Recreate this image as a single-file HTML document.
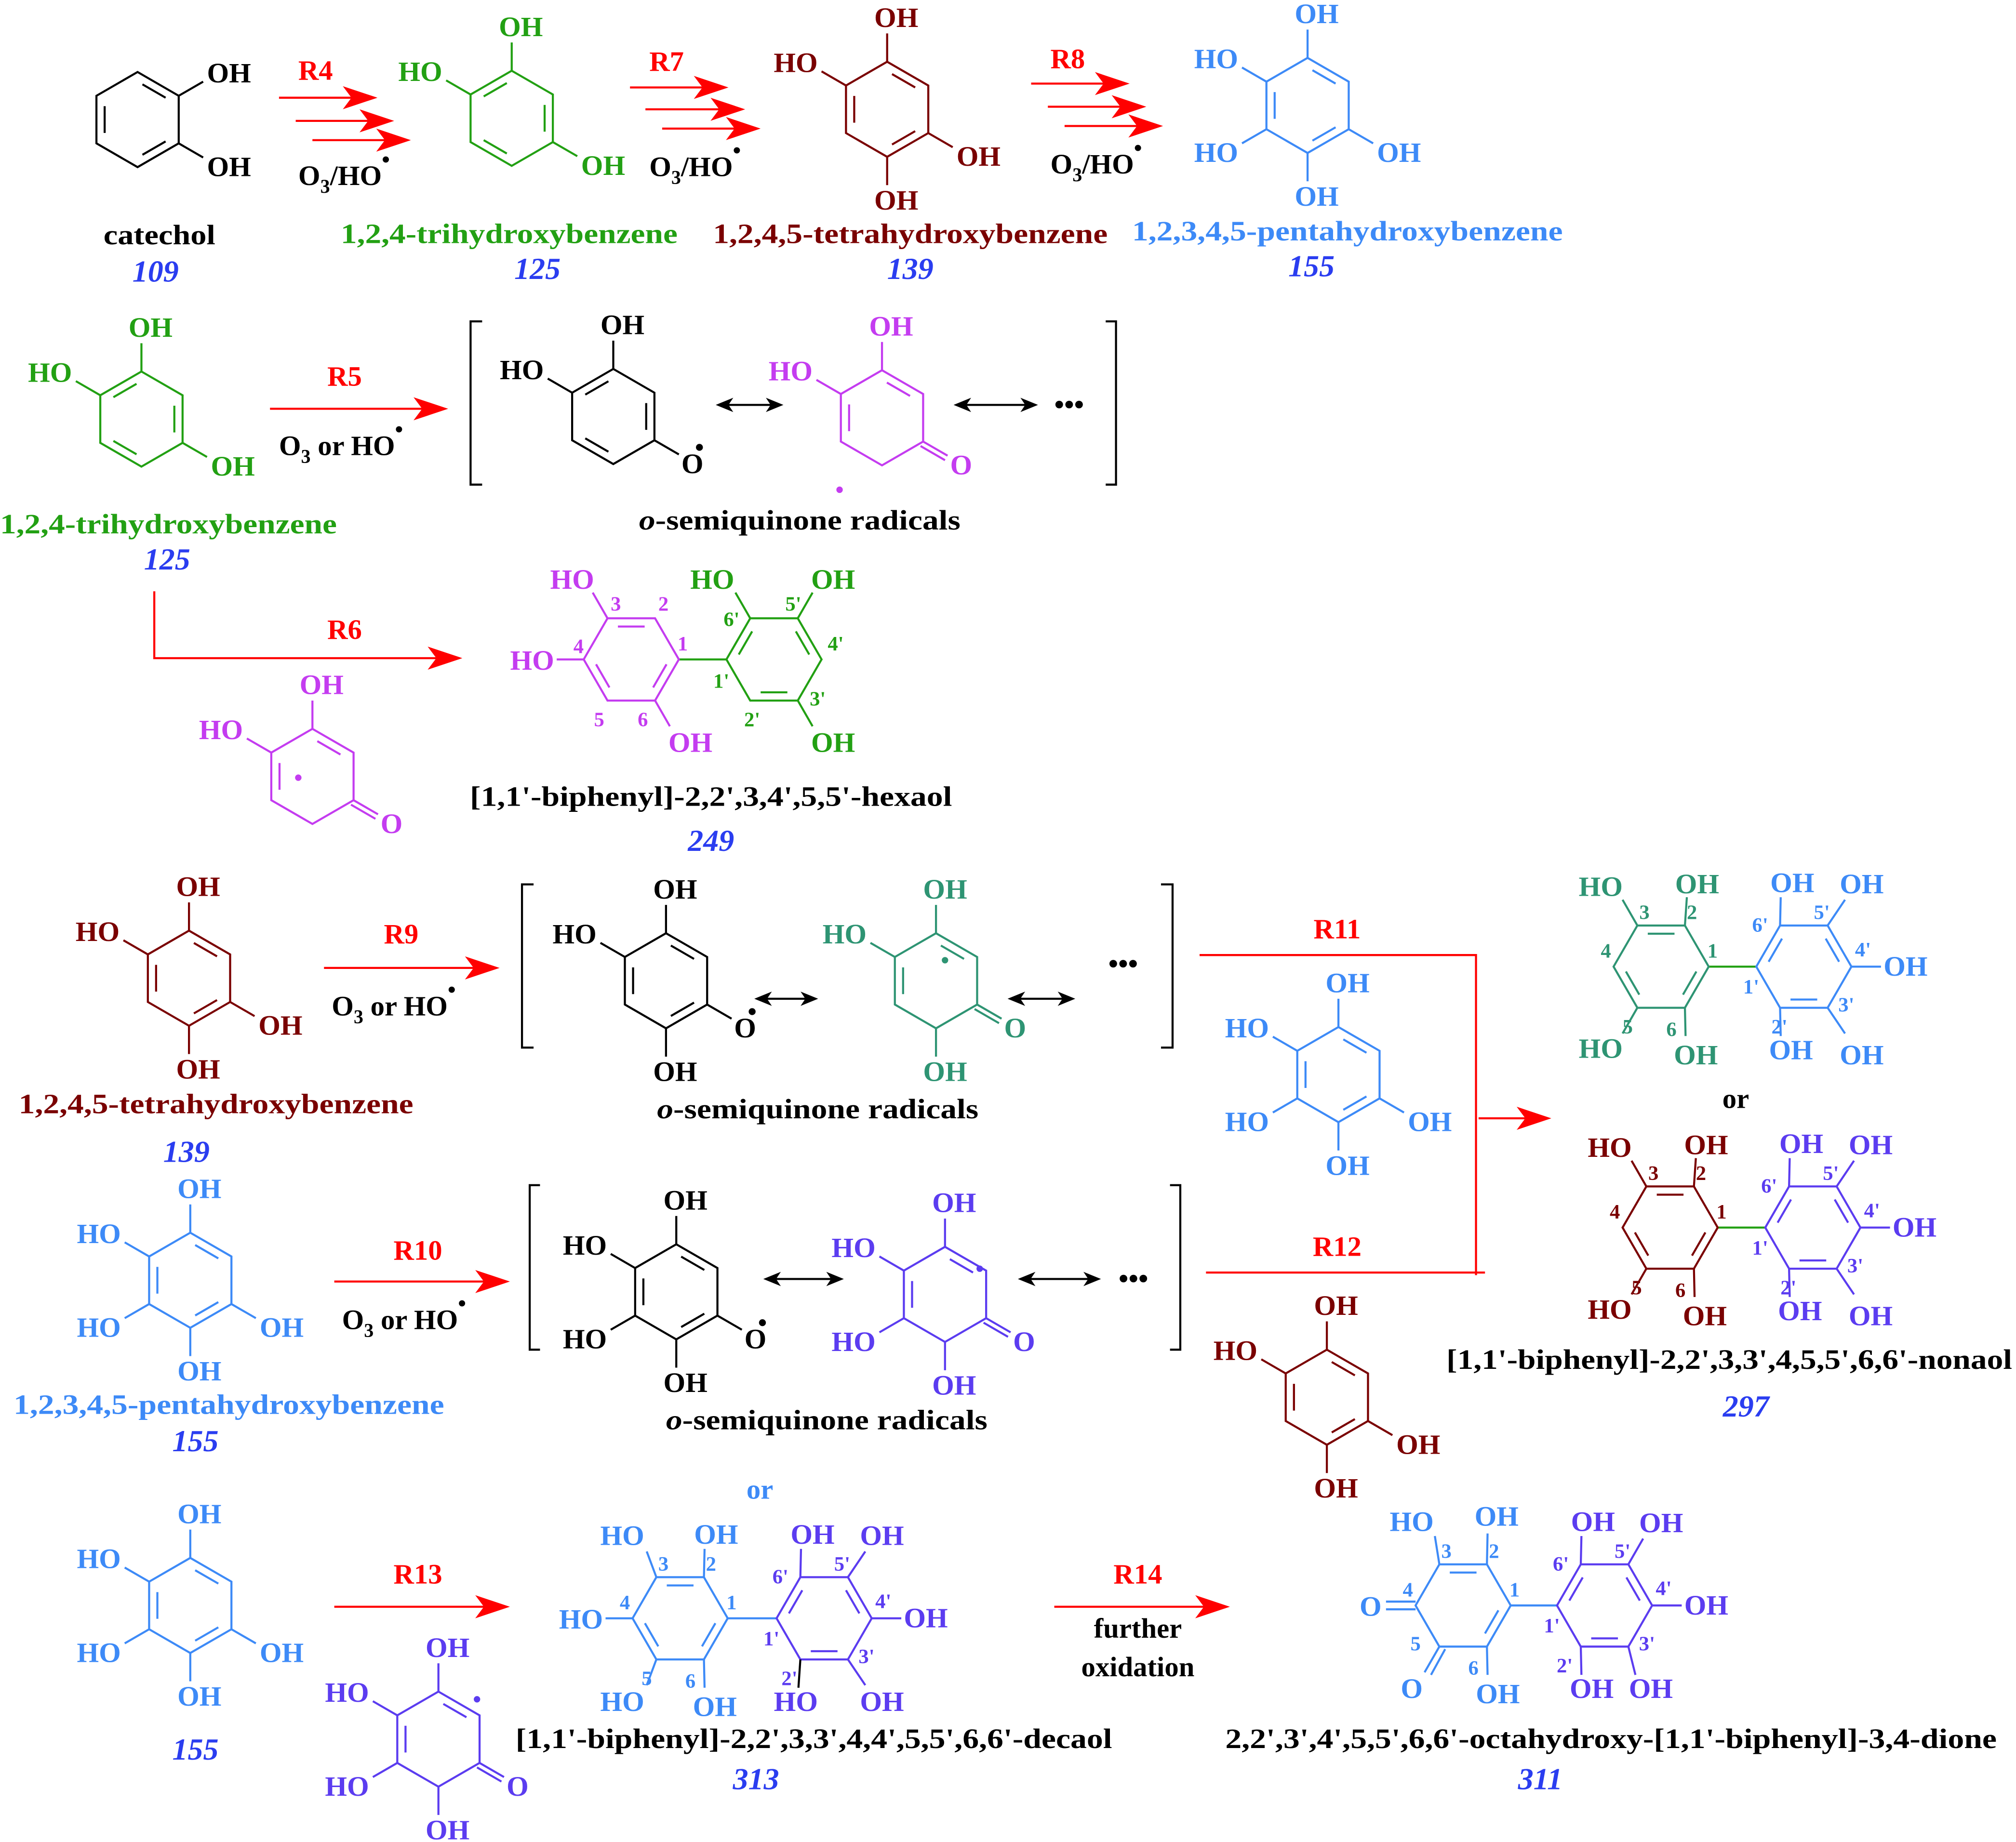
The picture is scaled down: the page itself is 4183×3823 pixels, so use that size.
<!DOCTYPE html>
<html><head><meta charset="utf-8"><style>
html,body{margin:0;padding:0;background:#fff;}
svg{display:block;}
text{font-family:"Liberation Serif","Times New Roman",serif;font-weight:bold;font-size:22px;stroke:none;}
.n{font-size:16px;}
.i{font-style:italic;fill:#2a3df0;font-size:24px;}
.red{fill:#ff0000;}
line,path,polyline{stroke-width:1.6;}
</style></head><body>
<svg xmlns="http://www.w3.org/2000/svg" width="4183" height="3823" viewBox="0 0 1568 1433">
<defs>
<path id="hp" d="M0,-37L32,-18.5L32,18.5L0,37L-32,18.5L-32,-18.5Z" fill="none"/>
<path id="hf" d="M37,0L18.5,32L-18.5,32L-37,0L-18.5,-32L18.5,-32Z" fill="none"/>
<g id="pA"><line x1="-25.6" y1="-10.4" x2="-25.6" y2="10.4"/><line x1="21.8" y1="-17" x2="3.8" y2="-27.4"/><line x1="3.8" y1="27.4" x2="21.8" y2="17"/></g>
<g id="pB"><line x1="-3.8" y1="-27.4" x2="-21.8" y2="-17"/><line x1="-21.8" y1="17" x2="-3.8" y2="27.4"/><line x1="25.6" y1="10.4" x2="25.6" y2="-10.4"/></g>
<g id="pQ"><line x1="-25.6" y1="-10.4" x2="-25.6" y2="10.4"/><line x1="21.8" y1="-17" x2="3.8" y2="-27.4"/></g>
<g id="fA"><line x1="-10.4" y1="-25.6" x2="10.4" y2="-25.6"/><line x1="-17" y1="21.8" x2="-27.4" y2="3.8"/><line x1="27.4" y1="3.8" x2="17" y2="21.8"/></g>
<g id="fB"><line x1="-27.4" y1="-3.8" x2="-17" y2="-21.8"/><line x1="17" y1="-21.8" x2="27.4" y2="-3.8"/><line x1="10.4" y1="25.6" x2="-10.4" y2="25.6"/></g>
<g id="fD"><line x1="-10.4" y1="-25.6" x2="10.4" y2="-25.6"/><line x1="27.4" y1="3.8" x2="17" y2="21.8"/></g>
</defs>

<!-- ============ ROW 1 ============ -->
<g transform="translate(107,93)" color="#000" stroke="currentColor" fill="currentColor">
<use href="#hp"/><use href="#pA"/>
<line x1="32" y1="-18.5" x2="51" y2="-29.5"/><text x="54" y="-29">OH</text>
<line x1="32" y1="18.5" x2="51" y2="29.5"/><text x="54" y="44">OH</text>
</g>
<text x="124" y="190" text-anchor="middle" textLength="87" lengthAdjust="spacingAndGlyphs">catechol</text>
<text x="121" y="219" text-anchor="middle" class="i">109</text>

<text x="232" y="62" class="red">R4</text>
<g stroke="#f00" fill="#f00">
<line x1="217" y1="76" x2="275" y2="76"/><polygon points="292,76 268,68 274,76 268,84"/>
<line x1="230" y1="94" x2="288" y2="94"/><polygon points="305,94 281,86 287,94 281,102"/>
<line x1="243" y1="109" x2="301" y2="109"/><polygon points="318,109 294,101 300,109 294,117"/>
</g>
<text x="232" y="144">O<tspan font-size="15" dy="6">3</tspan><tspan dy="-6">/HO</tspan><tspan dy="-14" font-size="18">•</tspan></text>

<g transform="translate(398,92)" color="#22a013" stroke="currentColor" fill="currentColor">
<use href="#hp"/><use href="#pB"/>
<line x1="0" y1="-37" x2="0" y2="-59"/><text x="-10" y="-64">OH</text>
<line x1="-32" y1="-18.5" x2="-51" y2="-29.5"/><text x="-54" y="-29" text-anchor="end">HO</text>
<line x1="32" y1="18.5" x2="51" y2="29.5"/><text x="54" y="44">OH</text>
</g>
<text x="396" y="189" text-anchor="middle" fill="#22a013" textLength="262" lengthAdjust="spacingAndGlyphs">1,2,4-trihydroxybenzene</text>
<text x="418" y="217" text-anchor="middle" class="i">125</text>

<text x="505" y="55" class="red">R7</text>
<g stroke="#f00" fill="#f00">
<line x1="490" y1="68" x2="548" y2="68"/><polygon points="565,68 541,60 547,68 541,76"/>
<line x1="502" y1="85" x2="561" y2="85"/><polygon points="578,85 554,77 560,85 554,93"/>
<line x1="515" y1="100" x2="573" y2="100"/><polygon points="590,100 566,92 572,100 566,108"/>
</g>
<text x="505" y="137">O<tspan font-size="15" dy="6">3</tspan><tspan dy="-6">/HO</tspan><tspan dy="-14" font-size="18">•</tspan></text>

<g transform="translate(690,85)" color="#7a0000" stroke="currentColor" fill="currentColor">
<use href="#hp"/><use href="#pA"/>
<line x1="0" y1="-37" x2="0" y2="-59"/><text x="-10" y="-64">OH</text>
<line x1="-32" y1="-18.5" x2="-51" y2="-29.5"/><text x="-54" y="-29" text-anchor="end">HO</text>
<line x1="32" y1="18.5" x2="51" y2="29.5"/><text x="54" y="44">OH</text>
<line x1="0" y1="37" x2="0" y2="59"/><text x="-10" y="78">OH</text>
</g>
<text x="708" y="189" text-anchor="middle" fill="#7a0000" textLength="307" lengthAdjust="spacingAndGlyphs">1,2,4,5-tetrahydroxybenzene</text>
<text x="708" y="217" text-anchor="middle" class="i">139</text>

<text x="817" y="53" class="red">R8</text>
<g stroke="#f00" fill="#f00">
<line x1="802" y1="65" x2="860" y2="65"/><polygon points="877,65 853,57 859,65 853,73"/>
<line x1="815" y1="83" x2="873" y2="83"/><polygon points="890,83 866,75 872,83 866,91"/>
<line x1="828" y1="98" x2="886" y2="98"/><polygon points="903,98 879,90 885,98 879,106"/>
</g>
<text x="817" y="135">O<tspan font-size="15" dy="6">3</tspan><tspan dy="-6">/HO</tspan><tspan dy="-14" font-size="18">•</tspan></text>

<g transform="translate(1017,82)" color="#3d8af7" stroke="currentColor" fill="currentColor">
<use href="#hp"/><use href="#pA"/>
<line x1="0" y1="-37" x2="0" y2="-59"/><text x="-10" y="-64">OH</text>
<line x1="-32" y1="-18.5" x2="-51" y2="-29.5"/><text x="-54" y="-29" text-anchor="end">HO</text>
<line x1="-32" y1="18.5" x2="-51" y2="29.5"/><text x="-54" y="44" text-anchor="end">HO</text>
<line x1="32" y1="18.5" x2="51" y2="29.5"/><text x="54" y="44">OH</text>
<line x1="0" y1="37" x2="0" y2="59"/><text x="-10" y="78">OH</text>
</g>
<text x="1048" y="187" text-anchor="middle" fill="#3d8af7" textLength="335" lengthAdjust="spacingAndGlyphs">1,2,3,4,5-pentahydroxybenzene</text>
<text x="1020" y="215" text-anchor="middle" class="i">155</text>

<!-- ============ ROW 2 ============ -->
<g transform="translate(110,326)" color="#22a013" stroke="currentColor" fill="currentColor">
<use href="#hp"/><use href="#pB"/>
<line x1="0" y1="-37" x2="0" y2="-59"/><text x="-10" y="-64">OH</text>
<line x1="-32" y1="-18.5" x2="-51" y2="-29.5"/><text x="-54" y="-29" text-anchor="end">HO</text>
<line x1="32" y1="18.5" x2="51" y2="29.5"/><text x="54" y="44">OH</text>
</g>
<text x="131" y="415" text-anchor="middle" fill="#22a013" textLength="262" lengthAdjust="spacingAndGlyphs">1,2,4-trihydroxybenzene</text>
<text x="130" y="443" text-anchor="middle" class="i">125</text>

<text x="268" y="300" text-anchor="middle" class="red">R5</text>
<g stroke="#f00" fill="#f00"><line x1="210" y1="318" x2="330" y2="318"/><polygon points="347,318 323,310 329,318 323,326"/></g>
<text x="217" y="354">O<tspan font-size="15" dy="6">3</tspan><tspan dy="-6"> or HO</tspan><tspan dy="-14" font-size="18">•</tspan></text>

<g stroke="#000" fill="none"><path d="M375,250H366V377H375"/><path d="M860,250H868V377H860"/></g>

<g transform="translate(477,324)" color="#000" stroke="currentColor" fill="currentColor">
<use href="#hp"/><use href="#pB"/>
<line x1="0" y1="-37" x2="0" y2="-59"/><text x="-10" y="-64">OH</text>
<line x1="-32" y1="-18.5" x2="-51" y2="-29.5"/><text x="-54" y="-29" text-anchor="end">HO</text>
<line x1="32" y1="18.5" x2="51" y2="29.5"/><text x="53" y="44">O</text><circle cx="67" cy="24" r="2.2"/>
</g>
<g stroke="#000" fill="#000"><line x1="566" y1="315" x2="600" y2="315"/><polygon points="558,315 569,310.5 566,315 569,319.5"/><polygon points="608,315 597,310.5 600,315 597,319.5"/></g>

<g transform="translate(686,325)" color="#c43cf0" stroke="currentColor" fill="currentColor">
<use href="#hp"/><use href="#pQ"/>
<line x1="0" y1="-37" x2="0" y2="-59"/><text x="-10" y="-64">OH</text>
<line x1="-32" y1="-18.5" x2="-51" y2="-29.5"/><text x="-54" y="-29" text-anchor="end">HO</text>
<line x1="32" y1="18.5" x2="51" y2="29.5"/><line x1="30" y1="22" x2="49" y2="33"/><text x="53" y="44">O</text>
<circle cx="-33" cy="56" r="2"/>
</g>
<g stroke="#000" fill="#000"><line x1="751" y1="315" x2="798" y2="315"/><polygon points="743,315 754,310.5 751,315 754,319.5"/><polygon points="806,315 795,310.5 798,315 795,319.5"/></g>
<text x="820" y="322">•••</text>
<text x="622" y="412" text-anchor="middle" textLength="250" lengthAdjust="spacingAndGlyphs"><tspan font-style="italic">o</tspan>-semiquinone radicals</text>

<!-- ============ ROW 3 ============ -->
<g stroke="#f00" fill="#f00"><path d="M120,460V512H341" fill="none"/><polygon points="358,512 334,504 340,512 334,520"/></g>
<text x="268" y="497" text-anchor="middle" class="red">R6</text>

<g transform="translate(243,604)" color="#c43cf0" stroke="currentColor" fill="currentColor">
<use href="#hp"/><use href="#pQ"/>
<line x1="0" y1="-37" x2="0" y2="-59"/><text x="-10" y="-64">OH</text>
<line x1="-32" y1="-18.5" x2="-51" y2="-29.5"/><text x="-54" y="-29" text-anchor="end">HO</text>
<line x1="32" y1="18.5" x2="51" y2="29.5"/><line x1="30" y1="22" x2="49" y2="33"/><text x="53" y="44">O</text>
<circle cx="-11" cy="1" r="2"/>
</g>

<line x1="528" y1="513" x2="565" y2="513" stroke="#22a013"/>
<g transform="translate(491,513)" color="#c43cf0" stroke="currentColor" fill="currentColor">
<use href="#hf"/><use href="#fA"/>
<line x1="-18.5" y1="-32" x2="-30" y2="-52"/><text x="-46" y="-55" text-anchor="middle">HO</text>
<line x1="-37" y1="0" x2="-58" y2="0"/><text x="-60" y="8" text-anchor="end">HO</text>
<line x1="18.5" y1="32" x2="30" y2="52"/><text x="46" y="72" text-anchor="middle">OH</text>
<text class="n" x="-12" y="-38" text-anchor="middle">3</text><text class="n" x="25" y="-38" text-anchor="middle">2</text>
<text class="n" x="40" y="-7" text-anchor="middle">1</text><text class="n" x="-41" y="-5" text-anchor="middle">4</text>
<text class="n" x="-25" y="52" text-anchor="middle">5</text><text class="n" x="9" y="52" text-anchor="middle">6</text>
</g>
<g transform="translate(602,513)" color="#22a013" stroke="currentColor" fill="currentColor">
<use href="#hf"/><use href="#fB"/>
<line x1="-18.5" y1="-32" x2="-30" y2="-52"/><text x="-48" y="-55" text-anchor="middle">HO</text>
<line x1="18.5" y1="-32" x2="30" y2="-52"/><text x="46" y="-55" text-anchor="middle">OH</text>
<line x1="18.5" y1="32" x2="30" y2="52"/><text x="46" y="72" text-anchor="middle">OH</text>
<text class="n" x="-33" y="-26" text-anchor="middle">6'</text><text class="n" x="15" y="-38" text-anchor="middle">5'</text>
<text class="n" x="48" y="-7" text-anchor="middle">4'</text><text class="n" x="-41" y="22" text-anchor="middle">1'</text>
<text class="n" x="34" y="36" text-anchor="middle">3'</text><text class="n" x="-17" y="52" text-anchor="middle">2'</text>
</g>
<text x="553" y="627" text-anchor="middle" textLength="375" lengthAdjust="spacingAndGlyphs">[1,1'-biphenyl]-2,2',3,4',5,5'-hexaol</text>
<text x="553" y="662" text-anchor="middle" class="i">249</text>

<!-- ============ ROW 4 ============ -->
<g transform="translate(147,761)" color="#7a0000" stroke="currentColor" fill="currentColor">
<use href="#hp"/><use href="#pA"/>
<line x1="0" y1="-37" x2="0" y2="-59"/><text x="-10" y="-64">OH</text>
<line x1="-32" y1="-18.5" x2="-51" y2="-29.5"/><text x="-54" y="-29" text-anchor="end">HO</text>
<line x1="32" y1="18.5" x2="51" y2="29.5"/><text x="54" y="44">OH</text>
<line x1="0" y1="37" x2="0" y2="59"/><text x="-10" y="78">OH</text>
</g>
<text x="168" y="866" text-anchor="middle" fill="#7a0000" textLength="307" lengthAdjust="spacingAndGlyphs">1,2,4,5-tetrahydroxybenzene</text>
<text x="145" y="904" text-anchor="middle" class="i">139</text>

<text x="312" y="734" text-anchor="middle" class="red">R9</text>
<g stroke="#f00" fill="#f00"><line x1="252" y1="753" x2="370" y2="753"/><polygon points="387,753 363,745 369,753 363,761"/></g>
<text x="258" y="790">O<tspan font-size="15" dy="6">3</tspan><tspan dy="-6"> or HO</tspan><tspan dy="-14" font-size="18">•</tspan></text>

<g stroke="#000" fill="none"><path d="M415,688H406V815H415"/><path d="M903,688H912V815H903"/></g>

<g transform="translate(518,763)" color="#000" stroke="currentColor" fill="currentColor">
<use href="#hp"/><use href="#pA"/>
<line x1="0" y1="-37" x2="0" y2="-59"/><text x="-10" y="-64">OH</text>
<line x1="-32" y1="-18.5" x2="-51" y2="-29.5"/><text x="-54" y="-29" text-anchor="end">HO</text>
<line x1="32" y1="18.5" x2="51" y2="29.5"/><text x="53" y="44">O</text><circle cx="67" cy="24" r="2.2"/>
<line x1="0" y1="37" x2="0" y2="59"/><text x="-10" y="78">OH</text>
</g>
<g stroke="#000" fill="#000"><line x1="596" y1="777" x2="627" y2="777"/><polygon points="588,777 599,772.5 596,777 599,781.5"/><polygon points="635,777 624,772.5 627,777 624,781.5"/></g>

<g transform="translate(728,763)" color="#2e9473" stroke="currentColor" fill="currentColor">
<use href="#hp"/><use href="#pQ"/>
<line x1="0" y1="-37" x2="0" y2="-59"/><text x="-10" y="-64">OH</text>
<line x1="-32" y1="-18.5" x2="-51" y2="-29.5"/><text x="-54" y="-29" text-anchor="end">HO</text>
<line x1="32" y1="18.5" x2="51" y2="29.5"/><line x1="30" y1="22" x2="49" y2="33"/><text x="53" y="44">O</text>
<line x1="0" y1="37" x2="0" y2="59"/><text x="-10" y="78">OH</text>
<circle cx="7" cy="-16" r="2"/>
</g>
<g stroke="#000" fill="#000"><line x1="793" y1="777" x2="827" y2="777"/><polygon points="785,777 796,772.5 793,777 796,781.5"/><polygon points="835,777 824,772.5 827,777 824,781.5"/></g>
<text x="862" y="757">•••</text>
<text x="636" y="870" text-anchor="middle" textLength="250" lengthAdjust="spacingAndGlyphs"><tspan font-style="italic">o</tspan>-semiquinone radicals</text>

<text x="1040" y="730" text-anchor="middle" class="red">R11</text>
<g stroke="#f00" fill="#f00">
<path d="M933,743H1148V992" fill="none"/>
<line x1="938" y1="990" x2="1155" y2="990"/>
<line x1="1150" y1="870" x2="1188" y2="870"/><polygon points="1205,870 1181,862 1187,870 1181,878"/>
</g>

<g transform="translate(1041,836)" color="#3d8af7" stroke="currentColor" fill="currentColor">
<use href="#hp"/><use href="#pA"/>
<line x1="0" y1="-37" x2="0" y2="-59"/><text x="-10" y="-64">OH</text>
<line x1="-32" y1="-18.5" x2="-51" y2="-29.5"/><text x="-54" y="-29" text-anchor="end">HO</text>
<line x1="-32" y1="18.5" x2="-51" y2="29.5"/><text x="-54" y="44" text-anchor="end">HO</text>
<line x1="32" y1="18.5" x2="51" y2="29.5"/><text x="54" y="44">OH</text>
<line x1="0" y1="37" x2="0" y2="59"/><text x="-10" y="78">OH</text>
</g>

<!-- nonaol top -->
<line x1="1329" y1="752" x2="1366" y2="752" stroke="#22a013"/>
<g transform="translate(1292,752)" color="#2e9473" stroke="currentColor" fill="currentColor">
<use href="#hf"/><use href="#fA"/>
<line x1="-18.5" y1="-32" x2="-30" y2="-52"/><text x="-47" y="-55" text-anchor="middle">HO</text>
<line x1="18.5" y1="-32" x2="20" y2="-54"/><text x="28" y="-57" text-anchor="middle">OH</text>
<line x1="-18.5" y1="32" x2="-30" y2="52"/><text x="-47" y="71" text-anchor="middle">HO</text>
<line x1="18.5" y1="32" x2="19" y2="54"/><text x="27" y="76" text-anchor="middle">OH</text>
<text class="n" x="-13" y="-37" text-anchor="middle">3</text><text class="n" x="24" y="-37" text-anchor="middle">2</text>
<text class="n" x="40" y="-7" text-anchor="middle">1</text><text class="n" x="-43" y="-7" text-anchor="middle">4</text>
<text class="n" x="-26" y="52" text-anchor="middle">5</text><text class="n" x="8" y="54" text-anchor="middle">6</text>
</g>
<g transform="translate(1403,752)" color="#3d8af7" stroke="currentColor" fill="currentColor">
<use href="#hf"/><use href="#fB"/>
<line x1="-18.5" y1="-32" x2="-18" y2="-54"/><text x="-9" y="-58" text-anchor="middle">OH</text>
<line x1="18.5" y1="-32" x2="32" y2="-52"/><text x="45" y="-57" text-anchor="middle">OH</text>
<line x1="37" y1="0" x2="60" y2="0"/><text x="62" y="7">OH</text>
<line x1="-18.5" y1="32" x2="-18" y2="54"/><text x="-10" y="72" text-anchor="middle">OH</text>
<line x1="18.5" y1="32" x2="32" y2="52"/><text x="45" y="76" text-anchor="middle">OH</text>
<text class="n" x="-34" y="-27" text-anchor="middle">6'</text><text class="n" x="14" y="-37" text-anchor="middle">5'</text>
<text class="n" x="46" y="-8" text-anchor="middle">4'</text><text class="n" x="-41" y="21" text-anchor="middle">1'</text>
<text class="n" x="33" y="35" text-anchor="middle">3'</text><text class="n" x="-19" y="52" text-anchor="middle">2'</text>
</g>
<text x="1350" y="862" text-anchor="middle">or</text>

<!-- nonaol bottom -->
<line x1="1336" y1="955" x2="1373" y2="955" stroke="#22a013"/>
<g transform="translate(1299,955)" color="#7a0000" stroke="currentColor" fill="currentColor">
<use href="#hf"/><use href="#fA"/>
<line x1="-18.5" y1="-32" x2="-30" y2="-52"/><text x="-47" y="-55" text-anchor="middle">HO</text>
<line x1="18.5" y1="-32" x2="20" y2="-54"/><text x="28" y="-57" text-anchor="middle">OH</text>
<line x1="-18.5" y1="32" x2="-30" y2="52"/><text x="-47" y="71" text-anchor="middle">HO</text>
<line x1="18.5" y1="32" x2="19" y2="54"/><text x="27" y="76" text-anchor="middle">OH</text>
<text class="n" x="-13" y="-37" text-anchor="middle">3</text><text class="n" x="24" y="-37" text-anchor="middle">2</text>
<text class="n" x="40" y="-7" text-anchor="middle">1</text><text class="n" x="-43" y="-7" text-anchor="middle">4</text>
<text class="n" x="-26" y="52" text-anchor="middle">5</text><text class="n" x="8" y="54" text-anchor="middle">6</text>
</g>
<g transform="translate(1410,955)" color="#5b3cf0" stroke="currentColor" fill="currentColor">
<use href="#hf"/><use href="#fB"/>
<line x1="-18.5" y1="-32" x2="-18" y2="-54"/><text x="-9" y="-58" text-anchor="middle">OH</text>
<line x1="18.5" y1="-32" x2="32" y2="-52"/><text x="45" y="-57" text-anchor="middle">OH</text>
<line x1="37" y1="0" x2="60" y2="0"/><text x="62" y="7">OH</text>
<line x1="-18.5" y1="32" x2="-18" y2="54"/><text x="-10" y="72" text-anchor="middle">OH</text>
<line x1="18.5" y1="32" x2="32" y2="52"/><text x="45" y="76" text-anchor="middle">OH</text>
<text class="n" x="-34" y="-27" text-anchor="middle">6'</text><text class="n" x="14" y="-37" text-anchor="middle">5'</text>
<text class="n" x="46" y="-8" text-anchor="middle">4'</text><text class="n" x="-41" y="21" text-anchor="middle">1'</text>
<text class="n" x="33" y="35" text-anchor="middle">3'</text><text class="n" x="-19" y="52" text-anchor="middle">2'</text>
</g>
<text x="1345" y="1065" text-anchor="middle" textLength="440" lengthAdjust="spacingAndGlyphs">[1,1'-biphenyl]-2,2',3,3',4,5,5',6,6'-nonaol</text>
<text x="1358" y="1102" text-anchor="middle" class="i">297</text>

<!-- ============ ROW 5 ============ -->
<g transform="translate(148,996)" color="#3d8af7" stroke="currentColor" fill="currentColor">
<use href="#hp"/><use href="#pA"/>
<line x1="0" y1="-37" x2="0" y2="-59"/><text x="-10" y="-64">OH</text>
<line x1="-32" y1="-18.5" x2="-51" y2="-29.5"/><text x="-54" y="-29" text-anchor="end">HO</text>
<line x1="-32" y1="18.5" x2="-51" y2="29.5"/><text x="-54" y="44" text-anchor="end">HO</text>
<line x1="32" y1="18.5" x2="51" y2="29.5"/><text x="54" y="44">OH</text>
<line x1="0" y1="37" x2="0" y2="59"/><text x="-10" y="78">OH</text>
</g>
<text x="178" y="1100" text-anchor="middle" fill="#3d8af7" textLength="335" lengthAdjust="spacingAndGlyphs">1,2,3,4,5-pentahydroxybenzene</text>
<text x="152" y="1129" text-anchor="middle" class="i">155</text>

<text x="325" y="980" text-anchor="middle" class="red">R10</text>
<g stroke="#f00" fill="#f00"><line x1="260" y1="997" x2="378" y2="997"/><polygon points="395,997 371,989 377,997 371,1005"/></g>
<text x="266" y="1034">O<tspan font-size="15" dy="6">3</tspan><tspan dy="-6"> or HO</tspan><tspan dy="-14" font-size="18">•</tspan></text>

<g stroke="#000" fill="none"><path d="M420,922H412V1050H420"/><path d="M910,922H918V1050H910"/></g>

<g transform="translate(526,1005)" color="#000" stroke="currentColor" fill="currentColor">
<use href="#hp"/><use href="#pA"/>
<line x1="0" y1="-37" x2="0" y2="-59"/><text x="-10" y="-64">OH</text>
<line x1="-32" y1="-18.5" x2="-51" y2="-29.5"/><text x="-54" y="-29" text-anchor="end">HO</text>
<line x1="-32" y1="18.5" x2="-51" y2="29.5"/><text x="-54" y="44" text-anchor="end">HO</text>
<line x1="32" y1="18.5" x2="51" y2="29.5"/><text x="53" y="44">O</text><circle cx="67" cy="24" r="2.2"/>
<line x1="0" y1="37" x2="0" y2="59"/><text x="-10" y="78">OH</text>
</g>
<g stroke="#000" fill="#000"><line x1="603" y1="995" x2="647" y2="995"/><polygon points="595,995 606,990.5 603,995 606,999.5"/><polygon points="655,995 644,990.5 647,995 644,999.5"/></g>

<g transform="translate(735,1007)" color="#5b3cf0" stroke="currentColor" fill="currentColor">
<use href="#hp"/><use href="#pQ"/>
<line x1="0" y1="-37" x2="0" y2="-59"/><text x="-10" y="-64">OH</text>
<line x1="-32" y1="-18.5" x2="-51" y2="-29.5"/><text x="-54" y="-29" text-anchor="end">HO</text>
<line x1="-32" y1="18.5" x2="-51" y2="29.5"/><text x="-54" y="44" text-anchor="end">HO</text>
<line x1="32" y1="18.5" x2="51" y2="29.5"/><line x1="30" y1="22" x2="49" y2="33"/><text x="53" y="44">O</text>
<line x1="0" y1="37" x2="0" y2="59"/><text x="-10" y="78">OH</text>
<circle cx="27" cy="-20" r="2"/>
</g>
<g stroke="#000" fill="#000"><line x1="801" y1="995" x2="847" y2="995"/><polygon points="793,995 804,990.5 801,995 804,999.5"/><polygon points="855,995 844,990.5 847,995 844,999.5"/></g>
<text x="870" y="1002">•••</text>
<text x="1040" y="977" text-anchor="middle" class="red">R12</text>
<text x="643" y="1112" text-anchor="middle" textLength="250" lengthAdjust="spacingAndGlyphs"><tspan font-style="italic">o</tspan>-semiquinone radicals</text>

<g transform="translate(1032,1087)" color="#7a0000" stroke="currentColor" fill="currentColor">
<use href="#hp"/><use href="#pA"/>
<line x1="0" y1="-37" x2="0" y2="-59"/><text x="-10" y="-64">OH</text>
<line x1="-32" y1="-18.5" x2="-51" y2="-29.5"/><text x="-54" y="-29" text-anchor="end">HO</text>
<line x1="32" y1="18.5" x2="51" y2="29.5"/><text x="54" y="44">OH</text>
<line x1="0" y1="37" x2="0" y2="59"/><text x="-10" y="78">OH</text>
</g>
<text x="591" y="1166" text-anchor="middle" fill="#3d8af7">or</text>

<!-- ============ ROW 6 ============ -->
<g transform="translate(148,1249)" color="#3d8af7" stroke="currentColor" fill="currentColor">
<use href="#hp"/><use href="#pA"/>
<line x1="0" y1="-37" x2="0" y2="-59"/><text x="-10" y="-64">OH</text>
<line x1="-32" y1="-18.5" x2="-51" y2="-29.5"/><text x="-54" y="-29" text-anchor="end">HO</text>
<line x1="-32" y1="18.5" x2="-51" y2="29.5"/><text x="-54" y="44" text-anchor="end">HO</text>
<line x1="32" y1="18.5" x2="51" y2="29.5"/><text x="54" y="44">OH</text>
<line x1="0" y1="37" x2="0" y2="59"/><text x="-10" y="78">OH</text>
</g>
<text x="152" y="1369" text-anchor="middle" class="i">155</text>

<text x="325" y="1232" text-anchor="middle" class="red">R13</text>
<g stroke="#f00" fill="#f00"><line x1="260" y1="1250" x2="378" y2="1250"/><polygon points="395,1250 371,1242 377,1250 371,1258"/></g>

<g transform="translate(341,1353)" color="#5b3cf0" stroke="currentColor" fill="currentColor">
<use href="#hp"/><use href="#pQ"/>
<line x1="0" y1="-37" x2="0" y2="-59"/><text x="-10" y="-64">OH</text>
<line x1="-32" y1="-18.5" x2="-51" y2="-29.5"/><text x="-54" y="-29" text-anchor="end">HO</text>
<line x1="-32" y1="18.5" x2="-51" y2="29.5"/><text x="-54" y="44" text-anchor="end">HO</text>
<line x1="32" y1="18.5" x2="51" y2="29.5"/><line x1="30" y1="22" x2="49" y2="33"/><text x="53" y="44">O</text>
<line x1="0" y1="37" x2="0" y2="59"/><text x="-10" y="78">OH</text>
<circle cx="30" cy="-31" r="2"/>
</g>

<!-- decaol -->
<line x1="566" y1="1259" x2="604" y2="1259" stroke="#3d8af7"/>
<g transform="translate(529,1259)" color="#3d8af7" stroke="currentColor" fill="currentColor">
<use href="#hf"/><use href="#fA"/>
<line x1="-18.5" y1="-32" x2="-26" y2="-52"/><text x="-45" y="-57" text-anchor="middle">HO</text>
<line x1="18.5" y1="-32" x2="19" y2="-54"/><text x="28" y="-58" text-anchor="middle">OH</text>
<line x1="-37" y1="0" x2="-58" y2="0"/><text x="-60" y="8" text-anchor="end">HO</text>
<line x1="-18.5" y1="32" x2="-26" y2="52"/><text x="-45" y="72" text-anchor="middle">HO</text>
<line x1="18.5" y1="32" x2="19" y2="54"/><text x="27" y="76" text-anchor="middle">OH</text>
<text class="n" x="-13" y="-37" text-anchor="middle">3</text><text class="n" x="24" y="-37" text-anchor="middle">2</text>
<text class="n" x="40" y="-7" text-anchor="middle">1</text><text class="n" x="-43" y="-7" text-anchor="middle">4</text>
<text class="n" x="-26" y="52" text-anchor="middle">5</text><text class="n" x="8" y="54" text-anchor="middle">6</text>
</g>
<g transform="translate(641,1259)" color="#5b3cf0" stroke="currentColor" fill="currentColor">
<use href="#hf"/><use href="#fB"/>
<line x1="-18.5" y1="-32" x2="-18" y2="-54"/><text x="-9" y="-58" text-anchor="middle">OH</text>
<line x1="18.5" y1="-32" x2="32" y2="-52"/><text x="45" y="-57" text-anchor="middle">OH</text>
<line x1="37" y1="0" x2="60" y2="0"/><text x="62" y="7">OH</text>
<line x1="-18.5" y1="32" x2="-20" y2="54" stroke="#000"/><text x="-22" y="72" text-anchor="middle">HO</text>
<line x1="18.5" y1="32" x2="32" y2="52"/><text x="45" y="72" text-anchor="middle">OH</text>
<text class="n" x="-34" y="-27" text-anchor="middle">6'</text><text class="n" x="14" y="-37" text-anchor="middle">5'</text>
<text class="n" x="46" y="-8" text-anchor="middle">4'</text><text class="n" x="-41" y="21" text-anchor="middle">1'</text>
<text class="n" x="33" y="35" text-anchor="middle">3'</text><text class="n" x="-27" y="52" text-anchor="middle">2'</text>
</g>
<text x="633" y="1360" text-anchor="middle" textLength="464" lengthAdjust="spacingAndGlyphs">[1,1'-biphenyl]-2,2',3,3',4,4',5,5',6,6'-decaol</text>
<text x="588" y="1392" text-anchor="middle" class="i">313</text>

<text x="885" y="1232" text-anchor="middle" class="red">R14</text>
<g stroke="#f00" fill="#f00"><line x1="820" y1="1250" x2="938" y2="1250"/><polygon points="955,1250 931,1242 937,1250 931,1258"/></g>
<text x="885" y="1274" text-anchor="middle">further</text>
<text x="885" y="1304" text-anchor="middle">oxidation</text>

<!-- dione -->
<line x1="1175" y1="1249" x2="1211" y2="1249" stroke="#3d8af7"/>
<g transform="translate(1138,1249)" color="#3d8af7" stroke="currentColor" fill="currentColor">
<use href="#hf"/><use href="#fD"/>
<line x1="-18.5" y1="-32" x2="-22" y2="-54"/><text x="-40" y="-58" text-anchor="middle">HO</text>
<line x1="18.5" y1="-32" x2="19" y2="-56"/><text x="26" y="-62" text-anchor="middle">OH</text>
<line x1="-37" y1="-3" x2="-60" y2="-3"/><line x1="-37" y1="3" x2="-60" y2="3"/><text x="-72" y="8" text-anchor="middle">O</text>
<line x1="-18.5" y1="32" x2="-30" y2="52"/><line x1="-14" y1="34" x2="-25" y2="54"/><text x="-40" y="72" text-anchor="middle">O</text>
<line x1="18.5" y1="32" x2="19" y2="54"/><text x="27" y="76" text-anchor="middle">OH</text>
<text class="n" x="-13" y="-37" text-anchor="middle">3</text><text class="n" x="24" y="-37" text-anchor="middle">2</text>
<text class="n" x="40" y="-7" text-anchor="middle">1</text><text class="n" x="-43" y="-7" text-anchor="middle">4</text>
<text class="n" x="-37" y="35" text-anchor="middle">5</text><text class="n" x="8" y="54" text-anchor="middle">6</text>
</g>
<g transform="translate(1248,1249)" color="#5b3cf0" stroke="currentColor" fill="currentColor">
<use href="#hf"/><use href="#fB"/>
<line x1="-18.5" y1="-32" x2="-18" y2="-54"/><text x="-9" y="-58" text-anchor="middle">OH</text>
<line x1="18.5" y1="-32" x2="30" y2="-52"/><text x="44" y="-57" text-anchor="middle">OH</text>
<line x1="37" y1="0" x2="60" y2="0"/><text x="62" y="7">OH</text>
<line x1="-18.5" y1="32" x2="-18" y2="54"/><text x="-10" y="72" text-anchor="middle">OH</text>
<line x1="18.5" y1="32" x2="24" y2="54"/><text x="36" y="72" text-anchor="middle">OH</text>
<text class="n" x="-34" y="-27" text-anchor="middle">6'</text><text class="n" x="14" y="-37" text-anchor="middle">5'</text>
<text class="n" x="46" y="-8" text-anchor="middle">4'</text><text class="n" x="-41" y="21" text-anchor="middle">1'</text>
<text class="n" x="33" y="35" text-anchor="middle">3'</text><text class="n" x="-31" y="52" text-anchor="middle">2'</text>
</g>
<text x="1253" y="1360" text-anchor="middle" textLength="600" lengthAdjust="spacingAndGlyphs">2,2',3',4',5,5',6,6'-octahydroxy-[1,1'-biphenyl]-3,4-dione</text>
<text x="1198" y="1392" text-anchor="middle" class="i">311</text>
</svg>
</body></html>
